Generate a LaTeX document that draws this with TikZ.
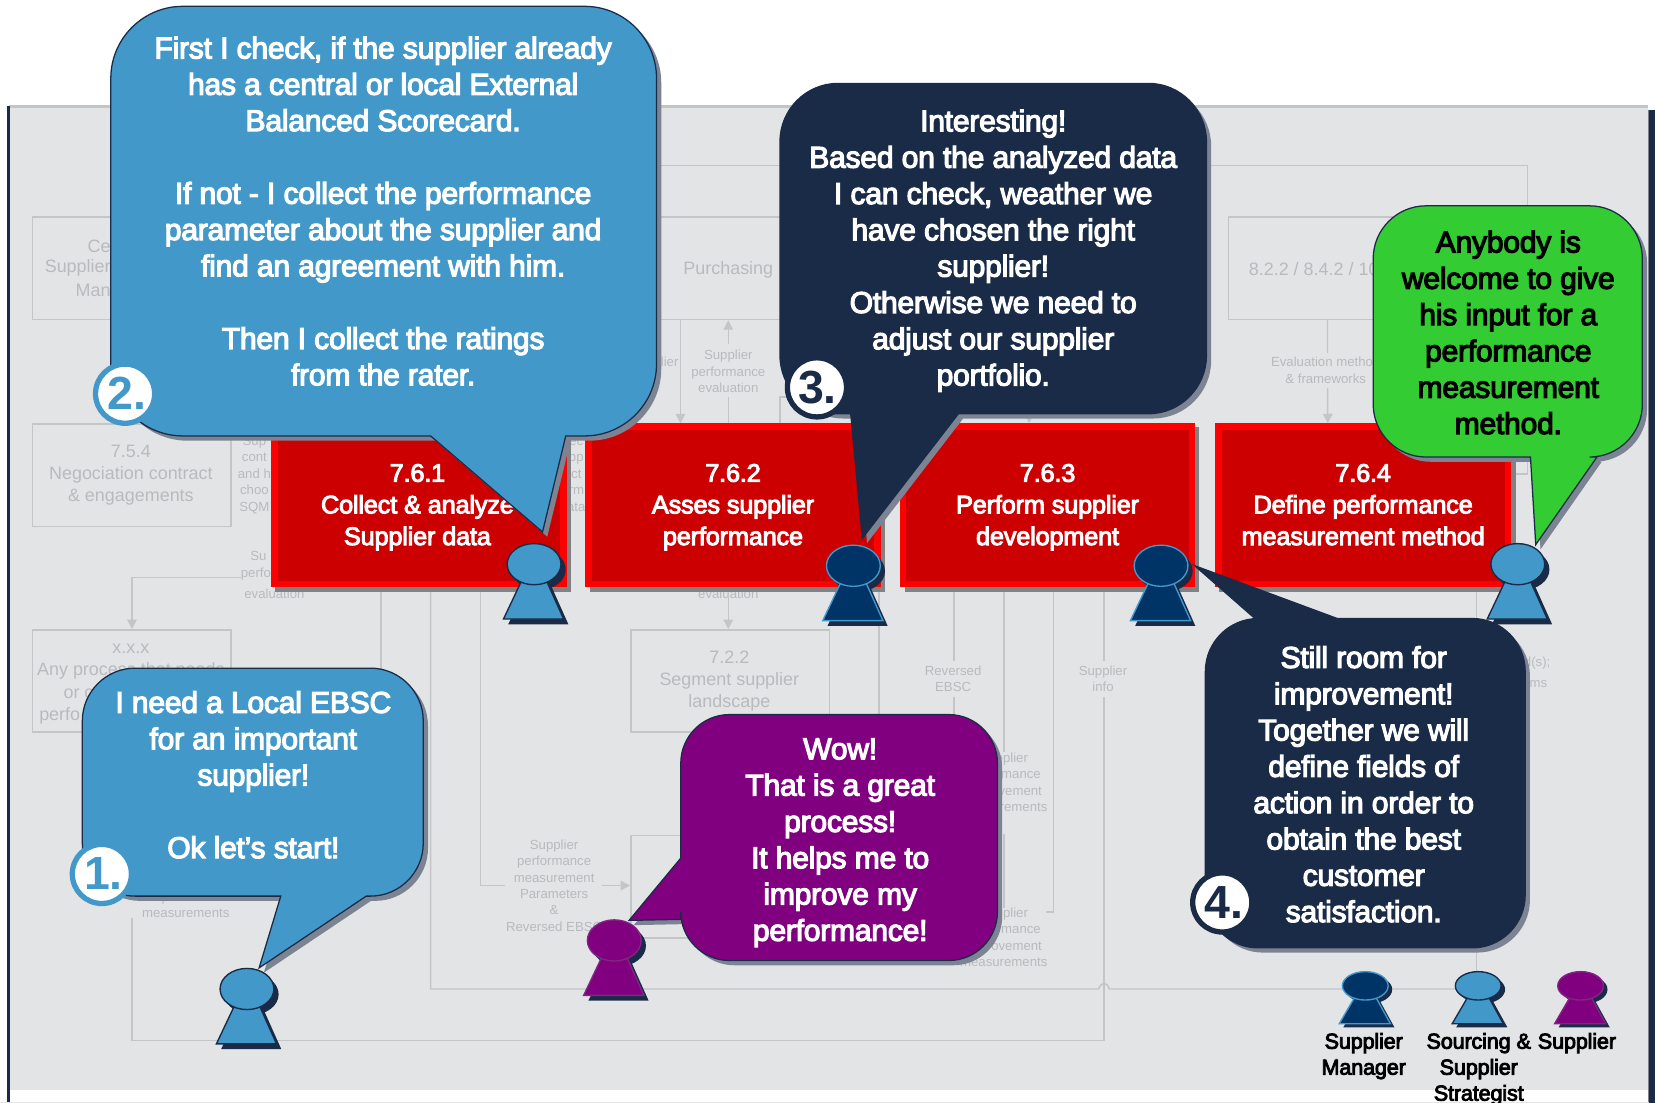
\documentclass[tikz,border=0pt]{standalone}
\usepackage{fontspec}
\setmainfont{Liberation Sans}
\newfontfamily\tightfont[LetterSpace=-0.8]{Liberation Sans}
\newcommand{\thick}[1]{\special{pdf:code 2 Tr #1 w}}
\usetikzlibrary{arrows.meta}
\definecolor{panel}{HTML}{E3E4E6}
\definecolor{panelline}{HTML}{C4C5C7}
\definecolor{fadetxt}{HTML}{B9BABD}
\definecolor{navy}{HTML}{1A2B47}
\definecolor{bblue}{HTML}{4198C9}
\definecolor{pnavy}{HTML}{003366}
\definecolor{ppurple}{HTML}{800080}
\definecolor{pgreen}{HTML}{33CC33}
\definecolor{bshadow}{HTML}{7C8494}
\definecolor{rin}{HTML}{CC0000}
\definecolor{rshadow}{HTML}{808285}
\tikzset{
  fadebox/.style={draw=panelline,line width=1.4pt,inner sep=0pt,minimum width=188pt,minimum height=97pt},
  fadeline/.style={draw=panelline,line width=1.4pt},
  fadearrow/.style={fadeline,-{Triangle[length=9pt,width=9pt,fill=panelline]}},
  fadetext/.style={text=fadetxt,align=center,inner sep=0pt,font=\fontsize{17}{21}\selectfont},
  fadesmall/.style={text=fadetxt,align=center,inner sep=0pt,font=\fontsize{12.5}{15.6}\selectfont},
  redbox/.style={draw=red,fill=rin,line width=6pt,inner sep=0pt,minimum width=274pt,minimum height=149pt},
  redtext/.style={text=white,align=center,inner sep=0pt,font=\tightfont\fontsize{24}{30}\selectfont},
  bubtext/.style={align=center,inner sep=0pt,font=\tightfont\fontsize{28.5}{34.4}\selectfont},
  bubblue/.style={fill=bblue,draw=navy},
  bubnavy/.style={fill=navy,draw=navy},
  bubpurple/.style={fill=ppurple,draw=navy},
  bubgreen/.style={fill=pgreen,draw=navy},
  badge/.style={circle,fill=white,line width=5pt,minimum size=56pt,inner sep=0pt,
    font=\fontsize{44}{44}\selectfont\bfseries},
  legendtext/.style={align=center,inner sep=0pt,text=black,font=\tightfont\fontsize{20.5}{24.6}\selectfont},
}
% #1 style, #2 L, #3 T, #4 R, #5 B, #6 radius, #7 top tail, #8 bottom tail, #9 left tail
\newcommand{\bubbleshape}[9]{%
  \foreach \pass in {0,1}{%
    \ifnum\pass=0\relax
      \tikzset{bubpass/.style={fill=bshadow,draw=none,shift={(4.5,4.5)}}}%
    \else
      \tikzset{bubpass/.style={#1,line width=1.2pt}}%
    \fi
    \path[bubpass] ({#2+#6},#3) #7 -- ({#4-#6},#3)
      .. controls ({#4-.45*#6},#3) and (#4,{#3+.45*#6}) .. (#4,{#3+#6})
      -- (#4,{#5-#6})
      .. controls (#4,{#5-.45*#6}) and ({#4-.45*#6},#5) .. ({#4-#6},#5)
      #8 -- ({#2+#6},#5)
      .. controls ({#2+.45*#6},#5) and (#2,{#5-.45*#6}) .. (#2,{#5-#6})
      #9 -- (#2,{#3+#6})
      .. controls (#2,{#3+.45*#6}) and ({#2+.45*#6},#3) .. ({#2+#6},#3) -- cycle;
  }%
}
% #1 cx, #2 cy, #3 fill, #4 stroke, #5 xscale, #6 yscale
\newcommand{\person}[6]{%
  \begin{scope}[shift={(#1,#2)},xscale=#5,yscale=#6]
    \fill[navy,shift={(4.5,5)}] (-11,14) -- (11,14) -- (28,52) -- (-29,52) -- cycle;
    \fill[navy,shift={(4.5,5)}] (0,0) ellipse [x radius=25.5,y radius=19.5];
    \path[fill=#3,draw=#4,line width=1.3pt] (-11,14) -- (11,14) -- (28,52) -- (-29,52) -- cycle;
    \path[fill=#3,draw=#4,line width=1.3pt] (0,0) ellipse [x radius=25.5,y radius=19.5];
  \end{scope}%
}
\begin{document}
\begin{tikzpicture}[x=1pt,y=-1pt]
\useasboundingbox (0,0) rectangle (1568,1045);
\fill[white] (0,0) rectangle (1568,1045);
% panel
\fill[panel] (9.5,102) rectangle (1561,1032.6);
\draw[panelline,line width=2.5pt] (9,101) -- (1561,101);
\fill[navy] (7,100) rectangle (9.8,1045);
\fill[navy] (1562.5,104) rectangle (1568,1045);
\draw[rshadow,line width=1pt] (1562,104) -- (1562,1045);
\fill[panel] (0,1044.4) rectangle (1562,1045);

% faded boxes
\node[fadebox,anchor=north west] (bce)  at (30,205)  {};
\node[fadebox,anchor=north west] (b754) at (30,401)  {};
\node[fadebox,anchor=north west] (bxxx) at (30,596)  {};
\node[fadebox,anchor=north west] (bpur) at (597,205) {};
\node[fadebox,anchor=north west] (b822) at (1163,205) {};
\node[fadebox,anchor=north west] (b722) at (597,596) {};
\node[fadebox,anchor=north west] (blow) at (597,791) {};

% faded labels
\node[fadetext,anchor=east] (tce1) at (105,233) {Ce};
\node[fadetext,anchor=east] (tce2) at (105,254) {Supplier};
\node[fadetext,anchor=east] (tce3) at (105,275) {Man};
\node[fadetext] (t754) at (124,450.5) {7.5.4\\Negociation contract\\\& engagements};
\node[fadetext] (txxx1) at (124,615) {x.x.x};
\node[fadetext] (txxx2) at (124,636) {Any process that needs};
\node[fadetext,anchor=west] (txxx3) at (60,657) {or c};
\node[fadetext,anchor=west] (txxx4) at (37,678) {perfo};
\node[fadetext] (tpur) at (690,255.5) {Purchasing};
\node[fadetext,anchor=west] (t822) at (1183,255) {8.2.2 / 8.4.2 / 10};
\node[fadetext] (t722) at (691,645.5) {7.2.2\\Segment supplier\\landscape};

\node[fadesmall] (l1) at (690,352) {Supplier\\performance\\evaluation};
\node[fadesmall,anchor=east] (l2) at (643,343) {lier};
\node[fadesmall] (l3) at (1256,351) {Evaluation method\\\& frameworks};
\node[fadesmall] (l4) at (241,450) {Sup\\cont\\and h\\choo\\SQM};
\node[fadesmall] (l5) at (546,450) {ec\\pp\\ct\\rm\\ata};
\node[fadesmall,anchor=west] (l6) at (237,527) {Su};
\node[fadesmall,anchor=west] (l7) at (228,544) {perfo};
\node[fadesmall] (l8) at (260,563) {evaluation};
\node[fadesmall] (l9) at (690,563) {evaluation};
\node[fadesmall] (l10) at (525,839) {Supplier\\performance\\measurement\\Parameters\\\&\\Reversed EBSC};
\node[fadesmall] (l11) at (903,643) {Reversed\\EBSC};
\node[fadesmall] (l12) at (1045,643) {Supplier\\info};
\node[fadesmall] (l13) at (951,741) {Supplier\\performance\\improvement\\measurements};
\node[fadesmall] (l14) at (951,888) {Supplier\\performance\\improvement\\measurements};
\node[fadesmall] (l15) at (176,857) {improvement\\measurements};
\node[fadesmall,anchor=east] (l16) at (1469,628) {d(s);};
\node[fadesmall,anchor=east] (l17) at (1466,648) {rms};

% anchor coordinates
\coordinate (j408) at (408,937);
\coordinate (j1399) at (1399,937);
\coordinate (j125) at (125,986);
\coordinate (j1046) at (1046,986);

% faded connectors
\draw[fadeline] (600,157) -- (1447,157) -- (1447,200);
\draw[fadearrow] ([xshift=-47pt]bpur.south) -- ([xshift=-47pt]bpur.south |- 0,401);
\draw[fadeline] (690,401) -- (690,376);
\draw[fadearrow] (690,326) -- (bpur.south -| 690,0);
\draw[fadeline] (770,376) -- (739,376) -- (739,401);
\draw[fadeline] (1432,449) -- (1447,449) -- (1447,430);
\draw[fadearrow] (b822.south) -- ++(0,31) ++(0,33) -- (1258,401);
\draw[fadearrow] (975,380) -- (975,401);
\draw[fadeline] (228,547) -- (125,547);
\draw[fadearrow] (125,547) -- (bxxx.north -| 125,0);
\draw[fadearrow] (690,556) -- (b722.north -| 690,0);
\draw[fadeline] (361,556) -- (361,650);
\draw[fadeline] (408,556) -- (j408) -- (1041,937)
  .. controls (1043,930) and (1049,930) .. (1051,937) -- (j1399);
\draw[fadeline] (455,556) -- (455,839) -- (478,839);
\draw[fadearrow] (570,839) -- (blow.west |- 0,839);
\draw[fadeline] (125,870) -- (j125) -- (j1046) -- (1046,660);
\draw[fadeline] (1046,556) -- (1046,626);
\draw[fadeline] (833,556) -- (833,680);
\draw[fadeline] (904,556) -- (904,626) (904,660) -- (904,680);
\draw[fadeline] (951,556) -- (951,712);
\draw[fadeline] (998,556) -- (998,864) -- (991,864);
\draw[fadeline] (951,790) -- (951,860);
\draw[fadeline] (1399,556) -- (1399,600) (1399,895) -- (j1399);

% red process boxes with their shadows
\fill[rshadow] (261,405) rectangle (541,560.5);
\fill[rshadow] (559,405) rectangle (838,560.5);
\fill[rshadow] (857,405) rectangle (1136,560.5);
\fill[rshadow] (1155,405) rectangle (1436,560.5);
\node[redbox] (p761) at (397,478.5) {};
\node[redbox] (p762) at (694.5,478.5) {};
\node[redbox] (p763) at (992.5,478.5) {};
\node[redbox] (p764) at (1291.5,478.5) {};
\node[redtext] (t761) at (395.5,480.5) {\thick{0.9}7.6.1\\\thick{0.9}Collect \& analyze\\\thick{0.9}Supplier data};
\node[redtext] (t762) at (694.5,480.5) {\thick{0.9}7.6.2\\\thick{0.9}Asses supplier\\\thick{0.9}performance};
\node[redtext] (t763) at (992.5,480.5) {\thick{0.9}7.6.3\\\thick{0.9}Perform supplier\\\thick{0.9}development};
\node[redtext] (t764) at (1291.5,480.5) {\thick{0.9}7.6.4\\\thick{0.9}Define performance\\\thick{0.9}measurement method\vphantom{p}};

% speech bubbles
\bubbleshape{bubblue}{105}{6}{622}{413}{68}{}{-- (536,413) -- (514,504) -- (408,413)}{}
\bubbleshape{bubnavy}{739}{79}{1143}{392}{55}{}{-- (908,392) -- (817,510) -- (806,392)}{}
\bubbleshape{bubgreen}{1301}{195}{1556}{433}{50}{}{-- (1513,433) -- (1455,516) -- (1450,433)}{}
\bubbleshape{bubnavy}{1142}{586}{1445}{898}{50}{-- (1189,586) -- (1132,536) -- (1267,586)}{}{}
\bubbleshape{bubblue}{78}{633}{401}{849}{50}{}{-- (347,849) -- (245.5,917) -- (266,849)}{}
\bubbleshape{bubpurple}{645}{677}{945}{910}{46}{}{}{-- (645,871) -- (596,872) -- (645,813)}

% persons
\person{234}{937}{bblue}{navy}{1}{1}
\person{506}{534.5}{bblue}{navy}{1}{1}
\person{808.5}{536}{pnavy}{bblue}{1}{1}
\person{1100}{536}{pnavy}{bblue}{1}{1}
\person{1438}{534.5}{bblue}{navy}{1}{1}
\person{582}{891}{ppurple}{ppurple!70!gray}{1}{1}
\person{1293.5}{934}{pnavy}{bblue}{.85}{.69}
\person{1400.5}{934}{bblue}{navy}{.85}{.69}
\person{1497.5}{934}{ppurple}{ppurple!70!gray}{.85}{.69}

% bubble texts
\node[bubtext,text=white] (s2) at (363,200) {\thick{1.1}First I check, if the supplier already\\has a central or local External\\Balanced Scorecard.\\[34.4pt]If not - I collect the performance\\parameter about the supplier and\\find an agreement with him.\\[34.4pt]Then I collect the ratings\\from the rater.};
\node[bubtext,text=white] (s3) at (941,237.5) {\thick{1.1}Interesting!\\Based on the analyzed data\\I can check, weather we\\have chosen the right\\supplier!\\Otherwise we need to\\adjust our supplier\\portfolio.};
\node[bubtext,text=black] (sg) at (1429,315) {\thick{1.1}Anybody is\\welcome to give\\his input for a\\performance\\measurement\\method.};
\node[bubtext,text=white] (s4) at (1292,743) {\thick{1.1}Still room for\\improvement!\\Together we will\\define fields of\\action in order to\\obtain the best\\customer\\satisfaction.};
\node[bubtext,text=white] (s1) at (240,734) {\thick{1.1}I need a Local EBSC\\for an important\\supplier!\\[34.4pt]Ok let’s start!};
\node[bubtext,text=white] (sp) at (796,798.5) {\thick{1.1}Wow!\\That is a great\\process!\\It helps me to\\improve my\\performance!};

% numbered badges
\node[badge,draw=bblue,text=bblue] (n2) at (118.5,373) {\kern3pt 2.};
\node[badge,draw=bblue,text=bblue] (n1) at (96.5,828) {\kern3pt 1.};
\node[badge,draw=navy,text=navy] (n3) at (774,367) {\kern1pt 3.};
\node[badge,draw=navy,text=navy] (n4) at (1158,855) {\kern3pt 4.};

% legend
\node[legendtext,anchor=north] (lg1) at (1292,978.5) {\thick{0.8}Supplier\\\thick{0.8}Manager};
\node[legendtext,anchor=north] (lg2) at (1401,978.5) {\thick{0.8}Sourcing \&\\\thick{0.8}Supplier\\\thick{0.8}Strategist};
\node[legendtext,anchor=north] (lg3) at (1494,978.5) {\thick{0.8}Supplier};
\end{tikzpicture}
\end{document}
